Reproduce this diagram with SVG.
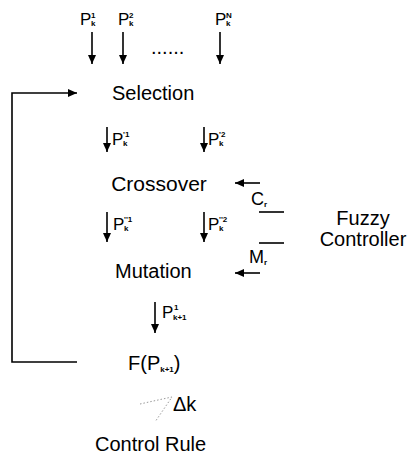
<svg xmlns="http://www.w3.org/2000/svg" width="411" height="458" viewBox="0 0 411 458">
<defs>
<marker id="ah" markerUnits="userSpaceOnUse" markerWidth="9" markerHeight="8" refX="9" refY="4" orient="auto">
<path d="M0,0 L9,4 L0,8 z" fill="#000"/>
</marker>
<style>
text{font-family:"Liberation Sans",Arial,sans-serif;fill:#000}
.lbl{font-size:20px}
.p{font-size:17px}
.s{font-size:8px;font-weight:bold}
.c{fill:none;stroke:#000;stroke-width:1.6}
.a{fill:none;stroke:#000;stroke-width:1.6;marker-end:url(#ah)}
.faint{fill:none;stroke:#999;stroke-width:1;stroke-dasharray:1.5 2}
</style>
</defs>
<rect width="411" height="458" fill="#fff"/>

<g id="inputs">
<text class="p" x="80" y="25">P</text><text class="s" x="91" y="18">1</text><text class="s" x="91" y="26">k</text>
<text class="p" x="118" y="25">P</text><text class="s" x="129" y="18">2</text><text class="s" x="129" y="26">k</text>
<text class="lbl" x="151" y="54">......</text>
<text class="p" x="215" y="25">P</text><text class="s" x="226" y="18">N</text><text class="s" x="226" y="26">k</text>
</g>

<g id="selection"><text class="lbl" x="112" y="100">Selection</text></g>

<g id="sel-out">
<text class="p" x="112" y="145">P</text><text class="s" x="123" y="137">'1</text><text class="s" x="123" y="146">k</text>
<text class="p" x="208" y="145">P</text><text class="s" x="219" y="137">'2</text><text class="s" x="219" y="146">k</text>
</g>

<g id="crossover"><text class="lbl" x="159" y="191" text-anchor="middle" style="font-size:21px">Crossover</text></g>

<g id="cross-out">
<text class="p" x="113" y="230">P</text><text class="s" x="124" y="222">''1</text><text class="s" x="124" y="231">k</text>
<text class="p" x="208" y="230">P</text><text class="s" x="219" y="222">''2</text><text class="s" x="219" y="231">k</text>
</g>

<g id="mutation"><text class="lbl" x="115" y="278">Mutation</text></g>

<g id="mut-out">
<text class="p" x="162" y="318">P</text><text class="s" x="174" y="310">1</text><text class="s" x="173" y="320">k+1</text>
</g>

<g id="fitness"><text class="lbl" x="128" y="370">F(P<tspan class="s" dy="2">k+1</tspan><tspan dy="-2">)</tspan></text></g>

<g id="delta"><text class="lbl" x="173" y="411">Δk</text></g>

<g id="control-rule"><text class="lbl" x="95" y="451">Control Rule</text></g>

<g id="fuzzy">
<text class="lbl" x="363" y="225" text-anchor="middle">Fuzzy</text>
<text class="lbl" x="363" y="246" text-anchor="middle">Controller</text>
</g>

<g id="cr"><text class="lbl" x="251" y="205" style="font-size:18px">C</text><text class="s" x="264" y="207">r</text></g>
<g id="mr"><text class="lbl" x="249" y="263" style="font-size:18px">M</text><text class="s" x="264" y="265">r</text></g>

<g id="connectors">
<line class="a" x1="92" y1="32" x2="92" y2="64"/>
<line class="a" x1="123" y1="32" x2="123" y2="64"/>
<line class="a" x1="220" y1="32" x2="220" y2="64"/>
<line class="a" x1="107" y1="127" x2="107" y2="152"/>
<line class="a" x1="204" y1="127" x2="204" y2="152"/>
<line class="a" x1="107" y1="212" x2="107" y2="242"/>
<line class="a" x1="204" y1="212" x2="204" y2="242"/>
<line class="a" x1="155" y1="302" x2="155" y2="333"/>
<polyline class="a" points="77,362 12,362 12,93 77,93"/>
<line class="a" x1="260" y1="183" x2="235" y2="183"/>
<line class="a" x1="260" y1="273" x2="235" y2="273"/>
<line class="c" x1="259" y1="212" x2="284" y2="212"/>
<line class="c" x1="259" y1="243" x2="284" y2="243"/>
<polyline class="faint" points="140,404 158,400 172,397 155,422"/>
</g>
</svg>
